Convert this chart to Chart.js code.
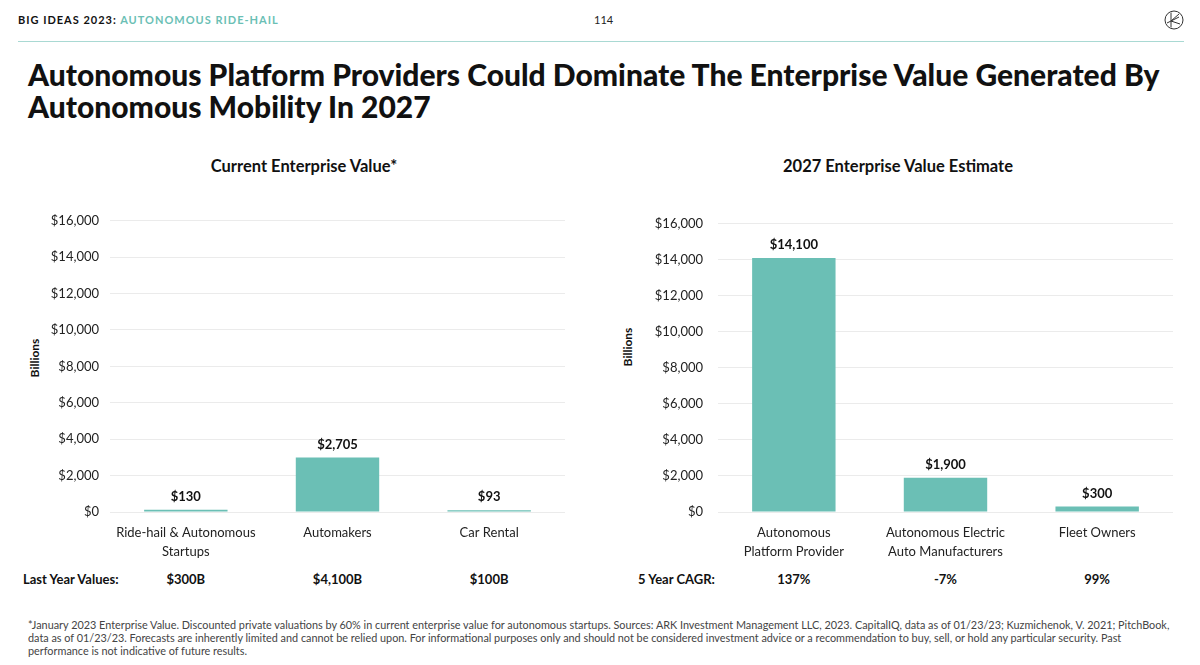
<!DOCTYPE html>
<html lang="en">
<head>
<meta charset="UTF-8">
<title>Autonomous Ride-Hail</title>
<script src="https://cdn.jsdelivr.net/npm/chart.js"></script>
<style>
    body { margin: 0; width: 1200px; height: 665px; background: #fff; font-family: Lato, sans-serif; color: #111; position: relative; overflow: hidden; }
    .abs { position: absolute; white-space: nowrap; }
    .header { left: 18px; top: 13px; font-size: 11px; font-weight: 700; letter-spacing: 1px; }
    .header span { color: #6bbfb5; }
    .page { left: 594px; top: 13px; font-size: 11px; color: #222; }
    .rule { left: 18px; top: 41px; width: 1166px; height: 1px; background: #a9d9d3; }
    .title { left: 28px; top: 58px; font-size: 30px; line-height: 32px; font-weight: 900; color: #111; }
    .chart-title { top: 156px; font-size: 16.5px; font-weight: 700; transform: translateX(-50%); }
    .y-title { font-size: 12px; font-weight: 700; transform: translate(-50%, -50%) rotate(-90deg); }
    .box { position: absolute; }
    .row-label { top: 571px; font-size: 13px; font-weight: 700; }
    .row-val { top: 571px; font-size: 13px; font-weight: 700; transform: translateX(-50%); }
    .note { left: 28px; top: 618px; font-size: 10.85px; line-height: 13px; color: #444; }
</style>
</head>
<body>
    <div class="abs header">BIG IDEAS 2023: <span>AUTONOMOUS RIDE-HAIL</span></div>
    <div class="abs page">114</div>
    <svg class="abs" style="left:1164px;top:10px" width="20" height="20" viewBox="0 0 20 20">
        <circle cx="10" cy="10" r="9" fill="none" stroke="#333" stroke-width="1"/>
        <path d="M7 2.5 L7 17.5 M7 11 L15 4 M7 11 L16 14 M3 13 L15 7" fill="none" stroke="#333" stroke-width="1"/>
    </svg>
    <div class="abs rule"></div>

    <div class="abs title">Autonomous Platform Providers Could Dominate The Enterprise Value Generated By<br>Autonomous Mobility In 2027</div>

    <div class="abs chart-title" style="left:304px">Current Enterprise Value*</div>
    <div class="abs chart-title" style="left:898px">2027 Enterprise Value Estimate</div>

    <div class="abs y-title" style="left:34px;top:358px">Billions</div>
    <div class="abs y-title" style="left:627px;top:347px">Billions</div>

    <div class="box" id="leftBox" style="left:20px;top:202px;width:545px;height:360px"><canvas id="leftChart"></canvas></div>
    <div class="box" id="rightBox" style="left:610px;top:201px;width:563px;height:361px"><canvas id="rightChart"></canvas></div>

    <div class="abs row-label" style="left:23px">Last Year Values:</div>
    <div class="abs row-label" style="left:638px">5 Year CAGR:</div>

    <div class="abs note">*January 2023 Enterprise Value. Discounted private valuations by 60% in current enterprise value for autonomous startups. Sources: ARK Investment Management LLC, 2023. CapitalIQ, data as of 01/23/23; Kuzmichenok, V. 2021; PitchBook,<br>data as of 01/23/23. Forecasts are inherently limited and cannot be relied upon. For informational purposes only and should not be considered investment advice or a recommendation to buy, sell, or hold any particular security. Past<br>performance is not indicative of future results.</div>

    <script>
        // Current enterprise value (billions) - the automakers bar is drawn taller than its $2,705 label in the source
        const currentCategories = [['Ride-hail & Autonomous', 'Startups'], 'Automakers', 'Car Rental'];
        const currentValues = [130, 3000, 93];
        const currentLabels = ['$130', '$2,705', '$93'];
        const lastYearValues = ['$300B', '$4,100B', '$100B'];

        // 2027 estimate (billions)
        const futureCategories = [['Autonomous', 'Platform Provider'], ['Autonomous Electric', 'Auto Manufacturers'], 'Fleet Owners'];
        const futureValues = [14100, 1900, 300];
        const futureLabels = ['$14,100', '$1,900', '$300'];
        const cagrValues = ['137%', '-7%', '99%'];

        const yMax = 16000;
        const yStep = 2000;

        const teal = '#6bbfb5';

        const valueLabels = {
            id: 'valueLabels',
            afterDatasetsDraw(chart, args, opts) {
                const ctx = chart.ctx;
                const meta = chart.getDatasetMeta(0);
                ctx.save();
                ctx.font = 'bold 13px Lato';
                ctx.fillStyle = '#111';
                ctx.textAlign = 'center';
                ctx.textBaseline = 'middle';
                meta.data.forEach((bar, i) => ctx.fillText(opts.labels[i], bar.x, bar.y - 13));
                ctx.restore();
            }
        };

        function makeChart(id, categories, values, labels, axisWidth, tickPad) {
            return new Chart(document.getElementById(id), {
                type: 'bar',
                data: {
                    labels: categories,
                    datasets: [{
                        data: values,
                        backgroundColor: teal,
                        categoryPercentage: 1,
                        barPercentage: 0.55
                    }]
                },
                options: {
                    responsive: true,
                    maintainAspectRatio: false,
                    animation: false,
                    layout: { padding: { top: 14, right: 0, bottom: 0, left: 0 } },
                    plugins: {
                        legend: { display: false },
                        tooltip: { enabled: false },
                        valueLabels: { labels: labels }
                    },
                    scales: {
                        x: {
                            grid: { display: false, drawTicks: false },
                            border: { display: false },
                            ticks: { color: '#222', padding: 11, maxRotation: 0, autoSkip: false, font: { family: 'Lato', size: 13, lineHeight: 1.5 } },
                            afterFit(scale) { scale.height = 50; }
                        },
                        y: {
                            min: 0,
                            max: yMax,
                            border: { display: false },
                            grid: { color: '#ebebeb', drawTicks: false },
                            ticks: {
                                stepSize: yStep,
                                padding: tickPad,
                                color: '#222',
                                font: { family: 'Lato', size: 13 },
                                callback: v => '$' + v.toLocaleString('en-US')
                            },
                            afterFit(scale) { scale.width = axisWidth; }
                        }
                    }
                },
                plugins: [valueLabels]
            });
        }

        // put the row under each bar using the chart's own x scale
        function addRow(chart, boxId, texts) {
            const left = document.getElementById(boxId).offsetLeft;
            texts.forEach((t, i) => {
                const el = document.createElement('div');
                el.className = 'abs row-val';
                el.textContent = t;
                el.style.left = (left + chart.scales.x.getPixelForValue(i)) + 'px';
                document.body.appendChild(el);
            });
        }

        const leftChart = makeChart('leftChart', currentCategories, currentValues, currentLabels, 90, 11);
        const rightChart = makeChart('rightChart', futureCategories, futureValues, futureLabels, 108, 15);
        addRow(leftChart, 'leftBox', lastYearValues);
        addRow(rightChart, 'rightBox', cagrValues);
    </script>
</body>
</html>
